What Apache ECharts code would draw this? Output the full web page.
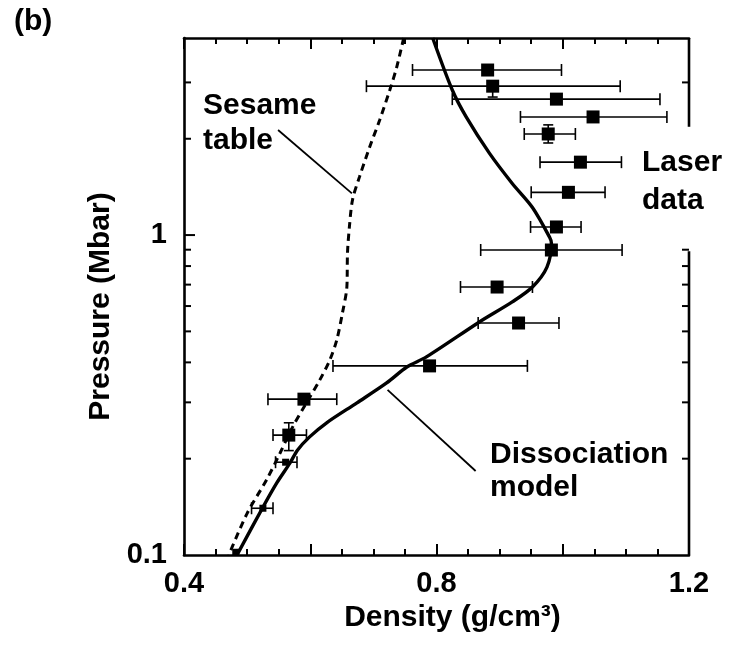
<!DOCTYPE html>
<html>
<head>
<meta charset="utf-8">
<script src="https://cdn.jsdelivr.net/npm/echarts@6/dist/echarts.min.js"></script>
<style>
  html, body { margin: 0; padding: 0; background: #fff; }
  #chart { width: 737px; height: 646px; }
</style>
</head>
<body>
<div id="chart"></div>
<script>
// Laser-driven shock points: density (g/cm3), pressure (Mbar) and error ranges
const laserDensity      = [0.881, 0.889, 0.990, 1.048, 0.977, 1.028, 1.009, 0.990, 0.982, 0.896, 0.930, 0.789, 0.590, 0.566];
const laserPressure     = [3.28, 2.92, 2.66, 2.34, 2.07, 1.69, 1.36, 1.06, 0.898, 0.688, 0.531, 0.390, 0.307, 0.237];
const laserDensityLow   = [0.762, 0.689, 0.825, 0.933, 0.939, 0.964, 0.950, 0.949, 0.870, 0.838, 0.866, 0.636, 0.533, 0.541];
const laserDensityHigh  = [0.998, 1.091, 1.154, 1.165, 1.020, 1.093, 1.067, 1.029, 1.094, 0.952, 0.994, 0.944, 0.642, 0.594];
const laserPressureLow  = [null, 2.70, null, null, 1.94, null, null, null, null, null, null, null, null, 0.212];
const laserPressureHigh = [null, 2.92, null, null, 2.21, null, null, null, null, null, null, null, null, 0.259];

// Low-pressure points (small symbols)
const lowDensity     = [0.561, 0.525, 0.482];
const lowPressure    = [0.195, 0.140, 0.102];
const lowDensityLow  = [0.545, 0.507, null];
const lowDensityHigh = [0.579, 0.541, null];
const lowPressureLow  = [null, null, null];
const lowPressureHigh = [null, null, null];

// Dissociation model curve
const modelDensity  = [0.794, 0.825, 0.847, 0.884, 0.920, 0.952, 0.979, 0.982, 0.975, 0.952, 0.920, 0.868, 0.784, 0.753, 0.721, 0.674, 0.626, 0.599, 0.580, 0.568, 0.547, 0.525, 0.484];
const modelPressure = [4.13, 2.84, 2.34, 1.80, 1.45, 1.22, 0.986, 0.944, 0.794, 0.688, 0.618, 0.535, 0.416, 0.387, 0.345, 0.299, 0.259, 0.234, 0.213, 0.194, 0.168, 0.141, 0.100];

// Sesame table curve
const sesameDensity  = [0.748, 0.737, 0.726, 0.710, 0.694, 0.678, 0.667, 0.662, 0.659, 0.658, 0.651, 0.642, 0.631, 0.615, 0.594, 0.572, 0.552, 0.531, 0.500, 0.471];
const sesamePressure = [4.13, 3.35, 2.84, 2.29, 1.88, 1.52, 1.29, 1.06, 0.879, 0.688, 0.571, 0.470, 0.407, 0.352, 0.299, 0.251, 0.208, 0.172, 0.135, 0.100];

// Axis ranges and tick values
const densityMin = 0.4, densityMax = 1.2, densityStep = 0.2;
const pressureMin = 0.1, pressureMax = 4.13;
const densityTickLabels = ['0.4', '0.8', '1.2'];
const pressureTickLabels = ['0.1', '1'];
const pressureMajorTicks = [1];
const pressureMinorTicksLeft  = [0.2, 0.3, 0.4, 0.5, 0.6, 0.7, 0.8, 0.9, 2, 3];
const pressureMinorTicksRight = [0.2, 0.3, 0.4, 0.5, 0.6, 0.7, 0.8, 0.9, 3];
// right frame edge is broken where the "Laser data" label sits
const rightEdgeSegments = [[pressureMax, 2.18], [0.89, pressureMin]];

// Leader lines from annotations to curves
const sesameLeader = [[0.549, 2.13], [0.666, 1.35]];
const modelLeader  = [[0.7225, 0.328], [0.862, 0.183]];

const FONT = "'Liberation Sans', Arial, Helvetica, sans-serif";
const INK = '#000';

function zip(a, b) { return a.map((v, i) => [v, b[i]]); }

function errorBars(dLow, dHigh, pLow, pHigh) {
  return function (params, api) {
    const i = params.dataIndex;
    const d = api.value(0), p = api.value(1);
    const style = { stroke: INK, lineWidth: 1.6 };
    const kids = [];
    const cap = 6;
    if (dLow[i] != null) {
      const a = api.coord([dLow[i], p]);
      const b = api.coord([dHigh[i], p]);
      kids.push({ type: 'line', shape: { x1: a[0], y1: a[1], x2: b[0], y2: b[1] }, style });
      kids.push({ type: 'line', shape: { x1: a[0], y1: a[1] - cap, x2: a[0], y2: a[1] + cap }, style });
      kids.push({ type: 'line', shape: { x1: b[0], y1: b[1] - cap, x2: b[0], y2: b[1] + cap }, style });
    }
    if (pLow[i] != null) {
      const a = api.coord([d, pLow[i]]);
      const b = api.coord([d, pHigh[i]]);
      kids.push({ type: 'line', shape: { x1: a[0], y1: a[1], x2: b[0], y2: b[1] }, style });
      kids.push({ type: 'line', shape: { x1: a[0] - 5, y1: a[1], x2: a[0] + 5, y2: a[1] }, style });
      kids.push({ type: 'line', shape: { x1: b[0] - 5, y1: b[1], x2: b[0] + 5, y2: b[1] }, style });
    }
    return { type: 'group', children: kids };
  };
}

// Pressure-axis ticks on both sides plus the broken right edge of the frame
function frameItem(params, api) {
  const kids = [];
  const tickStyle = { stroke: INK, lineWidth: 2 };
  const edgeStyle = { stroke: INK, lineWidth: 2.6 };
  pressureMinorTicksLeft.forEach(v => {
    const p = api.coord([densityMin, v]);
    kids.push({ type: 'line', shape: { x1: p[0], y1: p[1], x2: p[0] + 7, y2: p[1] }, style: tickStyle });
  });
  pressureMajorTicks.forEach(v => {
    const p = api.coord([densityMin, v]);
    kids.push({ type: 'line', shape: { x1: p[0], y1: p[1], x2: p[0] + 11, y2: p[1] }, style: tickStyle });
  });
  pressureMinorTicksRight.forEach(v => {
    const p = api.coord([densityMax, v]);
    kids.push({ type: 'line', shape: { x1: p[0], y1: p[1], x2: p[0] - 7, y2: p[1] }, style: tickStyle });
  });
  rightEdgeSegments.forEach(seg => {
    const a = api.coord([densityMax, seg[0]]);
    const b = api.coord([densityMax, seg[1]]);
    kids.push({ type: 'line', shape: { x1: a[0], y1: a[1], x2: b[0], y2: b[1] }, style: edgeStyle });
  });
  return { type: 'group', children: kids };
}

const labelStyle = { color: INK, fontFamily: FONT, fontWeight: 'bold', fontSize: 29 };

const xAxisCommon = {
  type: 'value',
  min: densityMin,
  max: densityMax,
  interval: densityStep,
  axisLine: { onZero: false, lineStyle: { color: INK, width: 2.6 } },
  axisTick: { inside: true, length: 11, lineStyle: { color: INK, width: 2 } },
  minorTick: { show: true, splitNumber: 4, length: 6, lineStyle: { color: INK, width: 2 } },
  splitLine: { show: false },
  minorSplitLine: { show: false }
};

const chart = echarts.init(document.getElementById('chart'), null, { renderer: 'canvas' });

chart.setOption({
  animation: false,
  backgroundColor: '#fff',
  grid: { left: 184, right: 48, top: 38, bottom: 91, containLabel: false },
  xAxis: [
    Object.assign({}, xAxisCommon, {
      position: 'bottom',
      name: 'Density (g/cm³)',
      nameLocation: 'middle',
      nameGap: 44,
      nameTextStyle: Object.assign({}, labelStyle, { fontSize: 30, padding: [0, 0, 0, 32] }),
      axisLabel: Object.assign({}, labelStyle, {
        margin: 14,
        formatter: v => densityTickLabels.includes(v.toFixed(1)) ? v.toFixed(1) : ''
      })
    }),
    Object.assign({}, xAxisCommon, {
      position: 'top',
      axisLabel: { show: false }
    })
  ],
  yAxis: [{
    type: 'log',
    logBase: 10,
    min: pressureMin,
    max: pressureMax,
    position: 'left',
    name: 'Pressure (Mbar)',
    nameLocation: 'middle',
    nameRotate: 90,
    nameGap: 62,
    nameTextStyle: Object.assign({}, labelStyle, { fontSize: 30, padding: [0, 20, 0, 0] }),
    axisLine: { show: true, lineStyle: { color: INK, width: 2.6 } },
    axisTick: { show: false },
    splitLine: { show: false },
    axisLabel: Object.assign({}, labelStyle, {
      margin: 17,
      formatter: v => {
        const s = String(+(+v).toPrecision(3));
        return pressureTickLabels.includes(s) ? s : '';
      }
    })
  }],
  graphic: [
    { type: 'text', left: 14, top: 7, style: { text: '(b)', fill: INK, font: 'bold 30px ' + FONT } },
    { type: 'text', left: 203, top: 88, style: { text: 'Sesame\ntable', fill: INK, font: 'bold 30px ' + FONT, lineHeight: 35 } },
    { type: 'text', left: 642, top: 144, style: { text: 'Laser\ndata', fill: INK, font: 'bold 30px ' + FONT, lineHeight: 38 } },
    { type: 'text', left: 490, top: 438, style: { text: 'Dissociation\nmodel', fill: INK, font: 'bold 30px ' + FONT, lineHeight: 33 } }
  ],
  series: [
    {
      type: 'custom',
      name: 'frame',
      renderItem: frameItem,
      data: [[0.8, 1]],
      clip: false,
      silent: true,
      z: 5
    },
    {
      type: 'line',
      name: 'Sesame table',
      data: zip(sesameDensity, sesamePressure),
      showSymbol: false,
      smooth: 0.3,
      lineStyle: { color: INK, width: 3, type: [7, 5] },
      z: 3
    },
    {
      type: 'line',
      name: 'Dissociation model',
      data: zip(modelDensity, modelPressure),
      showSymbol: false,
      smooth: 0.3,
      lineStyle: { color: INK, width: 3.4 },
      z: 4
    },
    {
      type: 'line',
      name: 'sesame leader',
      data: sesameLeader,
      showSymbol: false,
      lineStyle: { color: INK, width: 1.8 },
      silent: true
    },
    {
      type: 'line',
      name: 'model leader',
      data: modelLeader,
      showSymbol: false,
      lineStyle: { color: INK, width: 1.8 },
      silent: true
    },
    {
      type: 'custom',
      name: 'laser error',
      renderItem: errorBars(laserDensityLow, laserDensityHigh, laserPressureLow, laserPressureHigh),
      data: zip(laserDensity, laserPressure),
      encode: { x: 0, y: 1 },
      clip: false,
      z: 6
    },
    {
      type: 'custom',
      name: 'low error',
      renderItem: errorBars(lowDensityLow, lowDensityHigh, lowPressureLow, lowPressureHigh),
      data: zip(lowDensity, lowPressure),
      encode: { x: 0, y: 1 },
      clip: false,
      z: 6
    },
    {
      type: 'scatter',
      name: 'Laser data',
      data: zip(laserDensity, laserPressure),
      symbol: 'rect',
      symbolSize: 13,
      itemStyle: { color: INK, opacity: 1 },
      z: 7
    },
    {
      type: 'scatter',
      name: 'low pressure data',
      data: zip(lowDensity, lowPressure),
      symbol: 'rect',
      symbolSize: 7,
      itemStyle: { color: INK, opacity: 1 },
      z: 7
    }
  ]
});
</script>
</body>
</html>
